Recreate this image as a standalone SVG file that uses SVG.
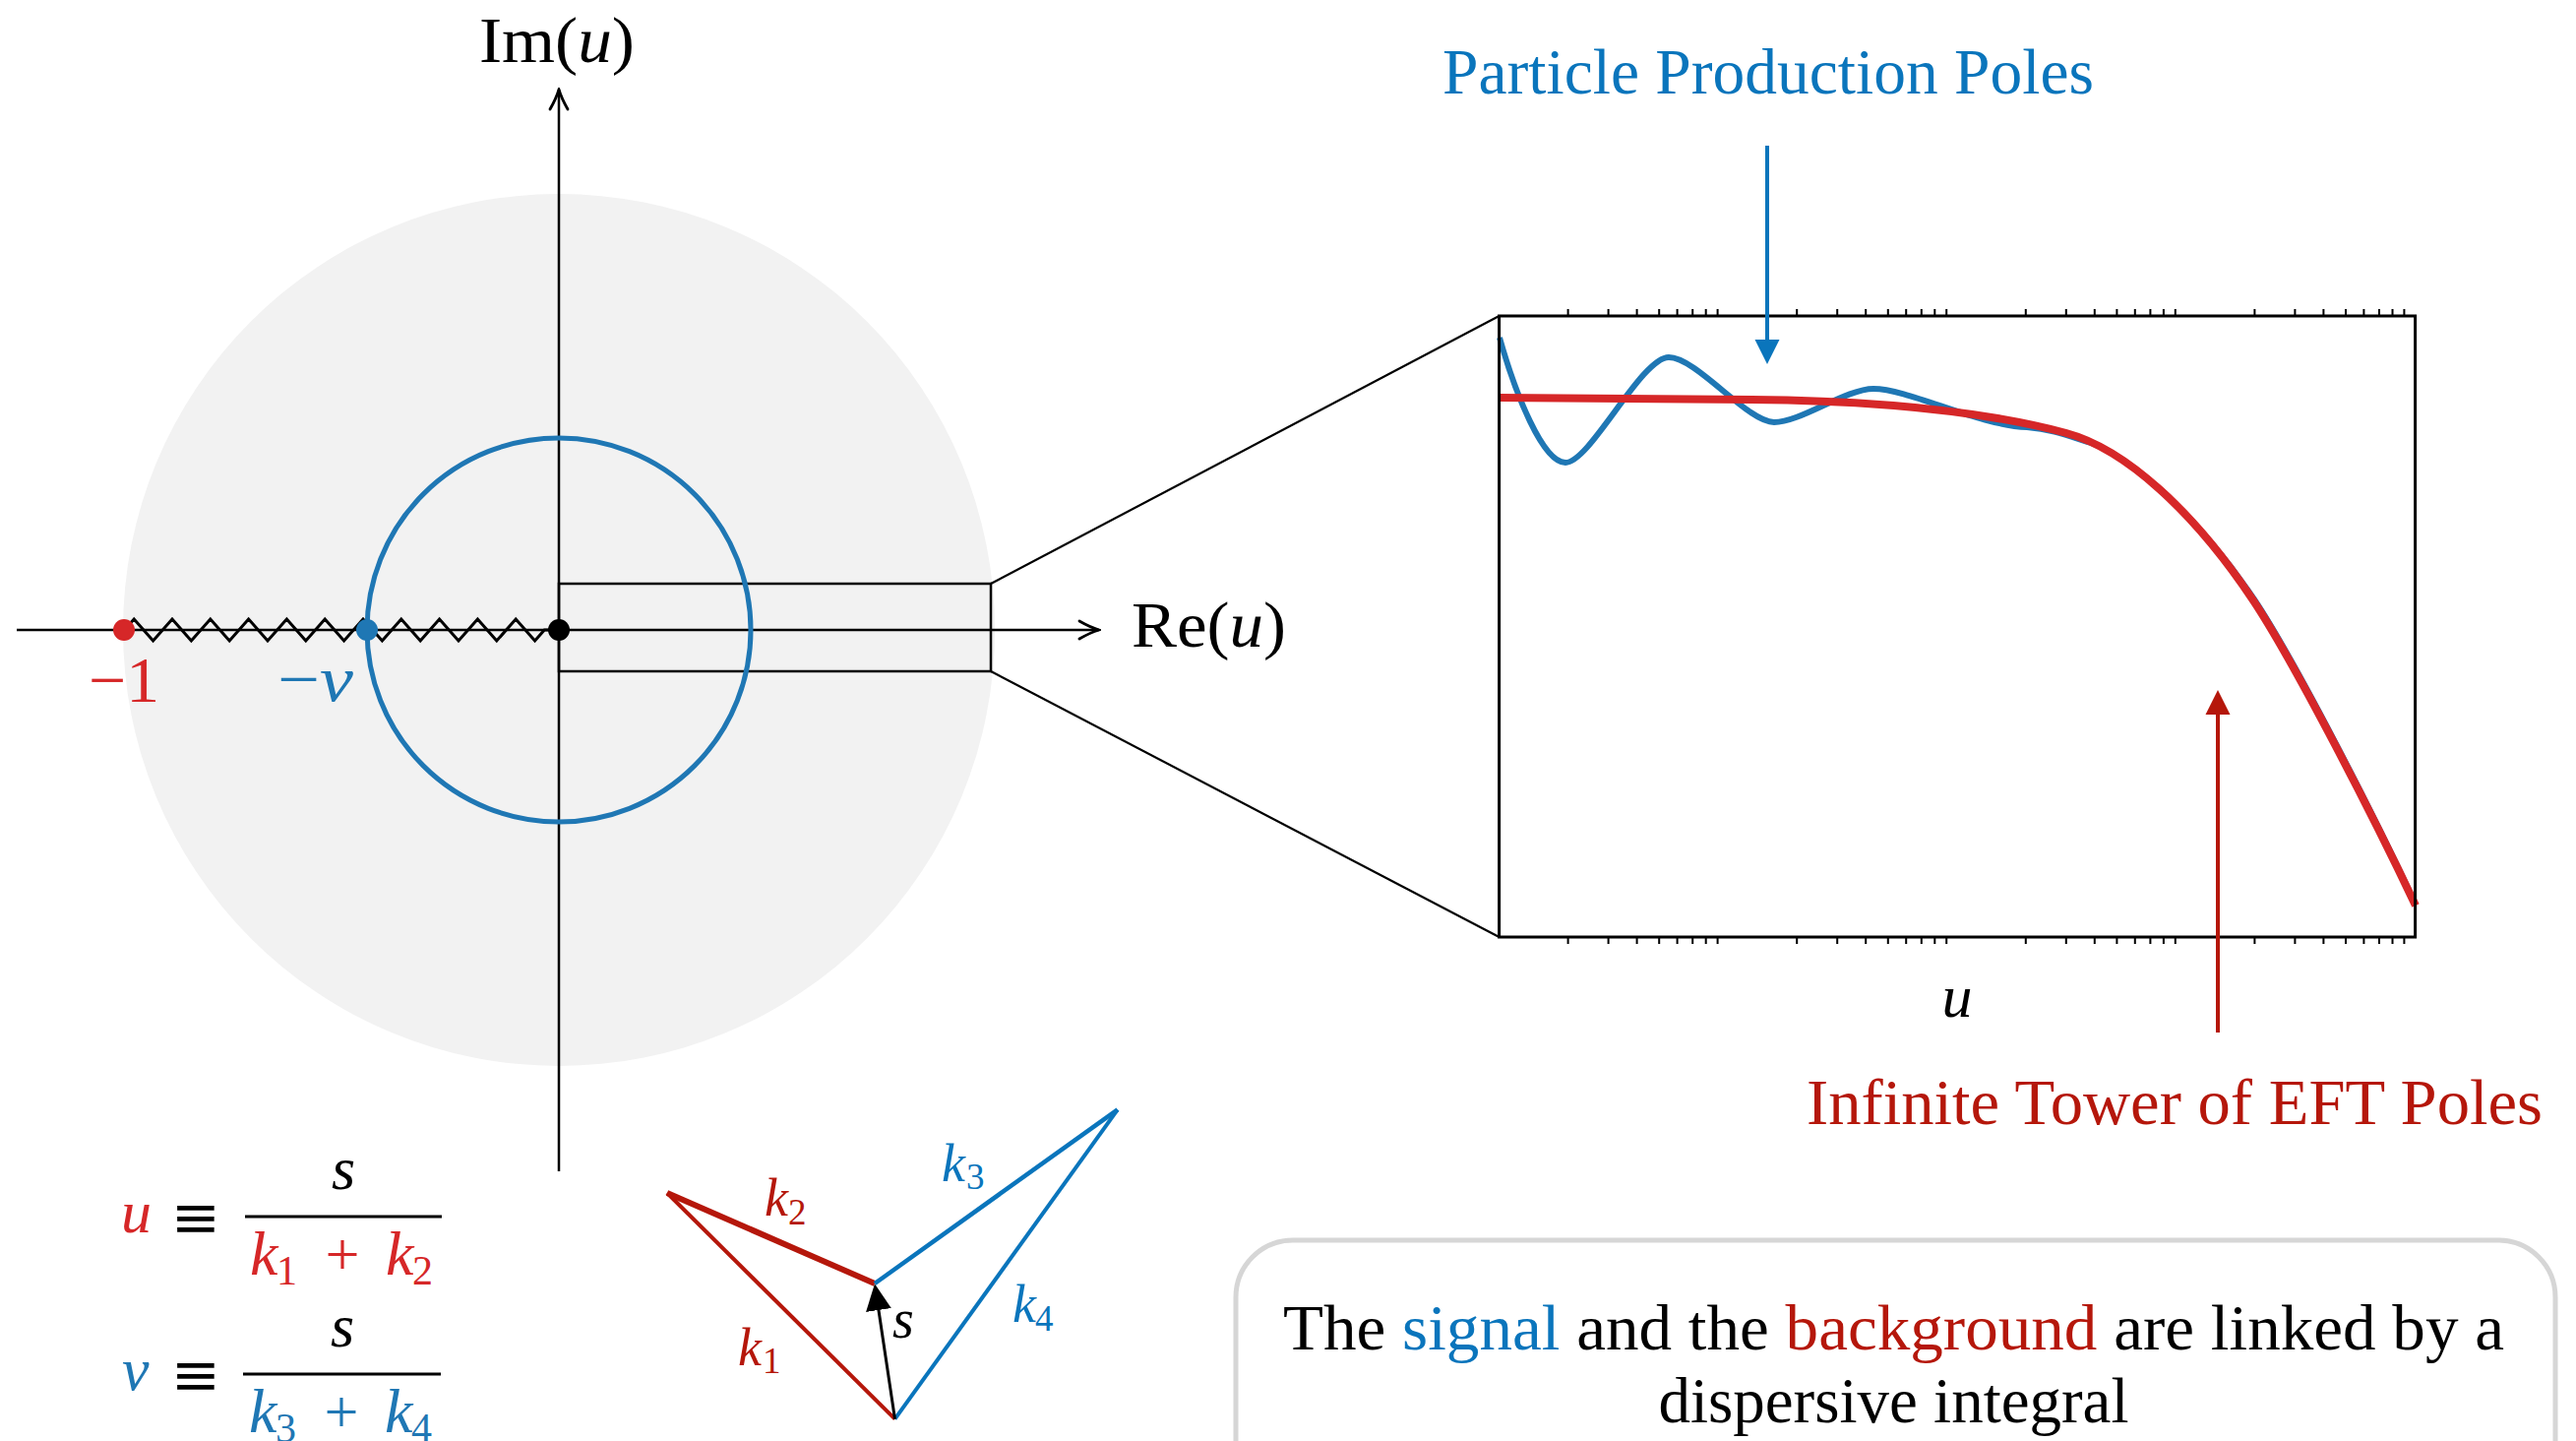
<svg xmlns="http://www.w3.org/2000/svg" width="2618" height="1464" viewBox="0 0 2618 1464">
<style>
  text { font-family: "Liberation Serif", "DejaVu Serif", serif; }
  .it { font-style: italic; }
  .ax { stroke: #000; stroke-width: 2.5; fill: none; }
  .tick { stroke: #000; stroke-width: 2; }
  .cblue { fill: #1f77b4; }
  .cred { fill: #d62728; }
  .dblue { fill: #0a75bc; }
  .dred { fill: #b5170b; }
</style>
<defs>
  <marker id="openArrow" markerUnits="userSpaceOnUse" viewBox="-22 -11 24 22" refX="0" refY="0" markerWidth="24" markerHeight="22" orient="auto">
    <path d="M-20,-9 C-13,-5 -5,-1.5 0,0 C-5,1.5 -13,5 -20,9" fill="none" stroke="#000" stroke-width="2.8" stroke-linecap="round"/>
  </marker>
  <marker id="headBlue" markerUnits="userSpaceOnUse" viewBox="-3 -13 26 26" refX="0" refY="0" markerWidth="26" markerHeight="26" orient="auto">
    <path d="M-3,-12.5 L22,0 L-3,12.5 Z" fill="#0a75bc"/>
  </marker>
  <marker id="headRed" markerUnits="userSpaceOnUse" viewBox="-3 -13 26 26" refX="0" refY="0" markerWidth="26" markerHeight="26" orient="auto">
    <path d="M-3,-12.5 L22,0 L-3,12.5 Z" fill="#b5170b"/>
  </marker>
  <marker id="headBlack" markerUnits="userSpaceOnUse" viewBox="-3 -14 28 28" refX="0" refY="0" markerWidth="28" markerHeight="28" orient="auto">
    <path d="M-3,-13 L24,0 L-3,13 Z" fill="#000"/>
  </marker>
</defs>

<rect width="2618" height="1464" fill="#fff"/>

<!-- Complex plane -->
<g id="complex-plane">
  <circle cx="568" cy="640" r="443" fill="#f2f2f2"/>
  <rect x="568" y="593" width="439" height="89" fill="none" stroke="#000" stroke-width="2.5"/>
  <line class="ax" x1="17" y1="640" x2="1117" y2="640" marker-end="url(#openArrow)"/>
  <line class="ax" x1="568" y1="1190" x2="568" y2="91" marker-end="url(#openArrow)"/>
  <circle cx="568" cy="640" r="195" fill="none" stroke="#1f77b4" stroke-width="5"/>
  <polyline fill="none" stroke="#000" stroke-width="3" stroke-linejoin="miter" points="126.5,640 136.2,629 155.6,651 175,629 194.4,651 213.8,629 233.2,651 252.6,629 272,651 291.4,629 310.8,651 330.2,629 349.6,651 369,629 388.4,651 407.8,629 427.2,651 446.6,629 466,651 485.4,629 504.8,651 524.2,629 543.6,651 553.3,640 568,640"/>
  <circle cx="126" cy="640" r="11" fill="#d62728"/>
  <circle cx="373" cy="640" r="11" fill="#1f77b4"/>
  <circle cx="568" cy="640" r="11" fill="#000"/>
  <text x="487" y="63" font-size="66" textLength="158" lengthAdjust="spacingAndGlyphs">Im(<tspan class="it">u</tspan>)</text>
  <text x="1150" y="657" font-size="66" textLength="157" lengthAdjust="spacingAndGlyphs">Re(<tspan class="it">u</tspan>)</text>
  <text x="90" y="713" font-size="66" class="cred" textLength="72" lengthAdjust="spacingAndGlyphs">−1</text>
  <text x="282" y="712" font-size="66" class="cblue" textLength="77" lengthAdjust="spacingAndGlyphs">−<tspan class="it">v</tspan></text>
</g>

<!-- Plot -->
<g id="plot">
  <path id="blue-curve" fill="none" stroke="#1f77b4" stroke-width="6" stroke-linejoin="round"
    d="M1524,343 C1540,400 1568,470 1591,470 C1616,470 1668,363 1696,363 C1724,363 1776,429 1803,429 C1830,429 1876,395 1904,395 C1940,395 2010,432 2060,434 C2085,436 2100,442 2125,450 C2160,462 2231,520 2291,609 C2331,669 2411,824 2455,919"/>
  <path id="red-curve" fill="none" stroke="#d62728" stroke-width="8"
    d="M1524,404 L1780,406 C1900,407 2010,416 2100,440 C2160,456 2230,520 2290,610 C2330,670 2410,825 2455,920"/>
  <rect x="1523.6" y="321" width="931" height="631" fill="none" stroke="#000" stroke-width="3"/>
  <g id="ticks-top" class="tick">
    <path d="M1593.6,321V314M1634.6,321V314M1663.6,321V314M1686.2,321V314M1704.6,321V314M1720.2,321V314M1733.7,321V314M1745.6,321V314
             M1826.2,321V314M1867.2,321V314M1896.2,321V314M1918.8,321V314M1937.2,321V314M1952.8,321V314M1966.3,321V314M1978.2,321V314
             M2058.8,321V314M2099.8,321V314M2128.8,321V314M2151.4,321V314M2169.8,321V314M2185.4,321V314M2198.9,321V314M2210.8,321V314
             M2291.4,321V314M2332.4,321V314M2361.4,321V314M2384,321V314M2402.4,321V314M2418,321V314M2431.5,321V314M2443.4,321V314"/>
  </g>
  <g id="ticks-bottom" class="tick">
    <path d="M1593.6,952V959M1634.6,952V959M1663.6,952V959M1686.2,952V959M1704.6,952V959M1720.2,952V959M1733.7,952V959M1745.6,952V959
             M1826.2,952V959M1867.2,952V959M1896.2,952V959M1918.8,952V959M1937.2,952V959M1952.8,952V959M1966.3,952V959M1978.2,952V959
             M2058.8,952V959M2099.8,952V959M2128.8,952V959M2151.4,952V959M2169.8,952V959M2185.4,952V959M2198.9,952V959M2210.8,952V959
             M2291.4,952V959M2332.4,952V959M2361.4,952V959M2384,952V959M2402.4,952V959M2418,952V959M2431.5,952V959M2443.4,952V959"/>
  </g>
  <text x="1989" y="1033" font-size="62" class="it" text-anchor="middle">u</text>
</g>

<!-- Labels -->
<g id="label-particle">
  <text x="1466" y="95" font-size="66" class="dblue" textLength="662" lengthAdjust="spacingAndGlyphs">Particle Production Poles</text>
</g>
<g id="label-eft">
  <text x="1836" y="1142" font-size="66" class="dred" textLength="748" lengthAdjust="spacingAndGlyphs">Infinite Tower of EFT Poles</text>
</g>

<!-- Connectors -->
<g id="connectors">
  <line x1="1007" y1="593" x2="1523.6" y2="321" stroke="#000" stroke-width="2.2"/>
  <line x1="1007" y1="682" x2="1523.6" y2="952" stroke="#000" stroke-width="2.2"/>
  <line x1="1796" y1="148" x2="1796" y2="348" stroke="#0a75bc" stroke-width="4" marker-end="url(#headBlue)"/>
  <line x1="2254" y1="1049" x2="2254" y2="723" stroke="#b5170b" stroke-width="4" marker-end="url(#headRed)"/>
</g>

<!-- Definitions -->
<g id="def-u">
  <text x="123" y="1252" font-size="62" class="it cred">u</text>
  <text x="199" y="1257" font-size="60" text-anchor="middle" style="font-family:'DejaVu Serif',serif">≡</text>
  <line x1="249" y1="1236" x2="449" y2="1236" stroke="#000" stroke-width="3"/>
  <text x="349" y="1208" font-size="62" class="it" text-anchor="middle">s</text>
  <text x="254" y="1295" font-size="64" class="it cred">k</text>
  <text x="281" y="1305" font-size="42" class="cred">1</text>
  <text x="348" y="1295" font-size="62" class="cred" text-anchor="middle">+</text>
  <text x="392" y="1295" font-size="64" class="it cred">k</text>
  <text x="419" y="1305" font-size="42" class="cred">2</text>
</g>
<g id="def-v">
  <text x="124" y="1412" font-size="62" class="it cblue">v</text>
  <text x="199" y="1417" font-size="60" text-anchor="middle" style="font-family:'DejaVu Serif',serif">≡</text>
  <line x1="247" y1="1396" x2="448" y2="1396" stroke="#000" stroke-width="3"/>
  <text x="348" y="1368" font-size="62" class="it" text-anchor="middle">s</text>
  <text x="253" y="1455" font-size="64" class="it cblue">k</text>
  <text x="280" y="1465" font-size="42" class="cblue">3</text>
  <text x="347" y="1455" font-size="62" class="cblue" text-anchor="middle">+</text>
  <text x="391" y="1455" font-size="64" class="it cblue">k</text>
  <text x="418" y="1465" font-size="42" class="cblue">4</text>
</g>

<!-- Momentum quadrilateral -->
<g id="momenta">
  <line x1="678" y1="1212" x2="909.5" y2="1441.7" stroke="#b5170b" stroke-width="4"/>
  <line x1="678" y1="1212" x2="889" y2="1304" stroke="#b5170b" stroke-width="6"/>
  <line x1="889" y1="1304" x2="1135.8" y2="1127.3" stroke="#0a75bc" stroke-width="4.5"/>
  <line x1="1135.8" y1="1127.3" x2="909.5" y2="1441.7" stroke="#0a75bc" stroke-width="4"/>
  <line x1="909.5" y1="1441.7" x2="892.5" y2="1328" stroke="#000" stroke-width="3" marker-end="url(#headBlack)"/>
  <text x="777" y="1235" font-size="54" class="it dred">k</text>
  <text x="801" y="1244" font-size="37" class="dred">2</text>
  <text x="957" y="1200" font-size="54" class="it dblue">k</text>
  <text x="982" y="1208" font-size="37" class="dblue">3</text>
  <text x="1029" y="1343" font-size="54" class="it dblue">k</text>
  <text x="1052" y="1352" font-size="37" class="dblue">4</text>
  <text x="750" y="1387" font-size="54" class="it dred">k</text>
  <text x="775" y="1395" font-size="37" class="dred">1</text>
  <text x="907" y="1359" font-size="56" class="it">s</text>
</g>

<!-- Caption box -->
<g id="caption">
  <rect x="1256" y="1260" width="1341" height="320" rx="58" ry="58" fill="#fff" stroke="#d6d6d6" stroke-width="5"/>
  <text x="1924.5" y="1371" font-size="66" text-anchor="middle" textLength="1241" lengthAdjust="spacingAndGlyphs">The <tspan class="dblue">signal</tspan> and the <tspan class="dred">background</tspan> are linked by a</text>
  <text x="1924.5" y="1445" font-size="66" text-anchor="middle" textLength="478" lengthAdjust="spacingAndGlyphs">dispersive integral</text>
</g>
</svg>
